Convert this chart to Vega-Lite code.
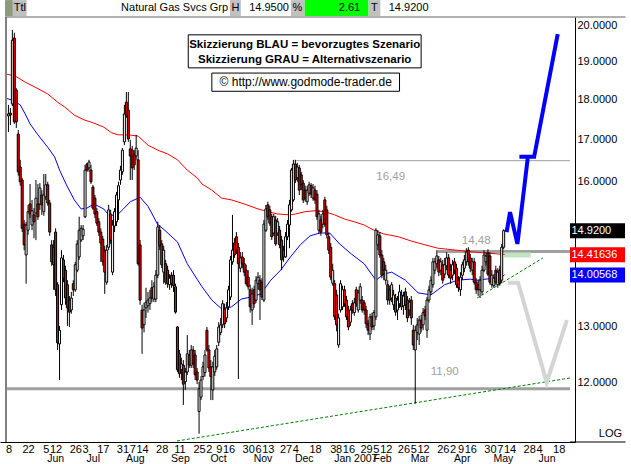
{
"$schema":"https://vega.github.io/schema/vega-lite/v6.json",
"width":575,"height":425,
"autosize":{"type":"none"},
"padding":{"left":0,"top":17,"right":56,"bottom":22},
"background":"white",
"config":{"view":{"stroke":null},"font":"Liberation Sans","axis":{"labelFont":"Liberation Sans","grid":false,"ticks":false}},
"resolve":{"axis":{"x":"independent"}},
"datasets":{
"one":[{}],
"c":[
{"i":0,"o":17.58,"h":17.86,"l":17.18,"c":17.63},{"i":1,"o":17.65,"h":17.78,"l":17.35,"c":17.6},{"i":2,"o":17.88,"h":19.88,"l":17.83,"c":19.59},{"i":3,"o":19.65,"h":19.8,"l":17.38,"c":17.43},{"i":4,"o":18.24,"h":18.29,"l":17.28,"c":17.43},{"i":5,"o":17.13,"h":17.23,"l":16.14,"c":16.23},{"i":6,"o":16.34,"h":16.51,"l":15.91,"c":16.0},{"i":7,"o":16.04,"h":16.09,"l":14.89,"c":14.97},{"i":8,"o":15.06,"h":15.15,"l":14.51,"c":14.62},{"i":9,"o":14.41,"h":15.11,"l":13.83,"c":15.04},
{"i":10,"o":14.93,"h":15.48,"l":14.83,"c":15.33},{"i":11,"o":15.5,"h":15.95,"l":15.19,"c":15.28},{"i":12,"o":15.04,"h":15.59,"l":14.93,"c":15.35},{"i":13,"o":15.26,"h":15.41,"l":14.76,"c":15.11},{"i":14,"o":15.3,"h":16.04,"l":14.72,"c":15.63},{"i":15,"o":15.5,"h":15.95,"l":15.15,"c":15.22},{"i":16,"o":15.5,"h":15.97,"l":15.37,"c":15.86},{"i":17,"o":15.7,"h":15.81,"l":15.26,"c":15.48},{"i":18,"o":15.33,"h":16.18,"l":15.24,"c":15.7},{"i":19,"o":15.66,"h":16.18,"l":15.59,"c":15.93},
{"i":20,"o":15.93,"h":16.0,"l":15.46,"c":15.52},{"i":21,"o":15.52,"h":15.59,"l":14.81,"c":14.89},{"i":22,"o":14.62,"h":14.72,"l":14.19,"c":14.27},{"i":23,"o":14.57,"h":14.72,"l":13.71,"c":14.21},{"i":24,"o":14.89,"h":14.97,"l":13.59,"c":13.71},{"i":25,"o":13.81,"h":13.86,"l":12.58,"c":12.71},{"i":26,"o":12.69,"h":13.02,"l":12.05,"c":12.94},{"i":27,"o":13.42,"h":14.51,"l":13.32,"c":14.35},{"i":28,"o":14.31,"h":14.41,"l":13.86,"c":13.94},{"i":29,"o":14.1,"h":14.19,"l":13.42,"c":13.55},
{"i":30,"o":13.81,"h":13.9,"l":13.02,"c":13.36},{"i":31,"o":13.51,"h":13.59,"l":13.0,"c":13.28},{"i":32,"o":13.32,"h":13.67,"l":13.25,"c":13.55},{"i":33,"o":13.83,"h":13.9,"l":13.59,"c":13.71},{"i":34,"o":13.71,"h":14.27,"l":13.67,"c":14.21},{"i":35,"o":14.1,"h":14.72,"l":14.06,"c":14.64},{"i":36,"o":14.37,"h":15.22,"l":14.31,"c":14.93},{"i":37,"o":14.72,"h":15.04,"l":14.68,"c":14.97},{"i":38,"o":14.81,"h":15.04,"l":14.72,"c":14.95},{"i":39,"o":15.22,"h":16.39,"l":15.19,"c":16.27},
{"i":40,"o":16.41,"h":16.44,"l":16.23,"c":16.27},{"i":41,"o":16.32,"h":16.51,"l":16.23,"c":16.46},{"i":42,"o":16.27,"h":16.39,"l":15.95,"c":16.0},{"i":43,"o":15.88,"h":15.93,"l":15.37,"c":15.41},{"i":44,"o":15.63,"h":15.7,"l":15.19,"c":15.28},{"i":45,"o":15.33,"h":15.41,"l":15.02,"c":15.08},{"i":46,"o":15.11,"h":15.19,"l":14.81,"c":14.89},{"i":47,"o":14.89,"h":14.97,"l":14.27,"c":14.66},{"i":48,"o":14.74,"h":14.81,"l":14.19,"c":14.27},{"i":49,"o":14.51,"h":14.6,"l":13.63,"c":14.06},
{"i":50,"o":13.86,"h":14.62,"l":13.81,"c":14.51},{"i":51,"o":14.57,"h":15.48,"l":14.51,"c":15.37},{"i":52,"o":15.28,"h":15.37,"l":14.64,"c":14.72},{"i":53,"o":14.06,"h":15.15,"l":14.0,"c":15.04},{"i":54,"o":15.02,"h":15.41,"l":14.89,"c":15.33},{"i":55,"o":15.11,"h":15.77,"l":15.02,"c":15.7},{"i":56,"o":15.59,"h":16.0,"l":15.15,"c":15.91},{"i":57,"o":16.04,"h":16.37,"l":15.93,"c":16.27},{"i":58,"o":16.23,"h":16.79,"l":16.16,"c":16.74},{"i":59,"o":16.94,"h":17.86,"l":16.86,"c":17.63},
{"i":60,"o":17.93,"h":18.19,"l":17.53,"c":17.58},{"i":61,"o":17.73,"h":18.19,"l":16.94,"c":17.01},{"i":62,"o":16.77,"h":16.99,"l":16.04,"c":16.6},{"i":63,"o":16.74,"h":16.84,"l":16.04,"c":16.32},{"i":64,"o":16.63,"h":16.74,"l":16.27,"c":16.39},{"i":65,"o":16.6,"h":17.11,"l":16.51,"c":16.79},{"i":66,"o":16.51,"h":16.74,"l":14.19,"c":14.23},{"i":67,"o":14.62,"h":14.72,"l":13.42,"c":13.51},{"i":68,"o":13.32,"h":13.42,"l":12.51,"c":12.98},{"i":69,"o":13.04,"h":13.46,"l":12.9,"c":13.32},
{"i":70,"o":13.36,"h":13.75,"l":13.17,"c":13.47},{"i":71,"o":13.4,"h":13.67,"l":13.27,"c":13.51},{"i":72,"o":13.44,"h":13.71,"l":13.32,"c":13.55},{"i":73,"o":13.75,"h":13.9,"l":13.47,"c":13.55},{"i":74,"o":13.53,"h":13.86,"l":13.47,"c":13.77},{"i":75,"o":13.53,"h":14.1,"l":13.47,"c":14.0},{"i":76,"o":14.0,"h":15.11,"l":13.94,"c":15.0},{"i":77,"o":14.93,"h":15.04,"l":14.51,"c":14.6},{"i":78,"o":14.64,"h":14.72,"l":14.14,"c":14.21},{"i":79,"o":14.06,"h":14.6,"l":13.83,"c":14.51},
{"i":80,"o":14.23,"h":14.31,"l":13.81,"c":13.86},{"i":81,"o":14.1,"h":14.19,"l":13.75,"c":13.83},{"i":82,"o":13.81,"h":14.02,"l":13.71,"c":13.94},{"i":83,"o":14.0,"h":14.06,"l":13.75,"c":13.83},{"i":84,"o":14.0,"h":14.1,"l":13.67,"c":13.79},{"i":85,"o":13.77,"h":13.83,"l":13.25,"c":13.28},{"i":86,"o":13.0,"h":13.02,"l":12.19,"c":12.23},{"i":87,"o":12.51,"h":12.58,"l":12.09,"c":12.16},{"i":88,"o":12.23,"h":12.44,"l":12.05,"c":12.33},{"i":89,"o":12.31,"h":12.4,"l":11.63,"c":11.98},
{"i":90,"o":12.02,"h":12.26,"l":11.88,"c":12.19},{"i":91,"o":12.19,"h":12.85,"l":12.14,"c":12.51},{"i":92,"o":12.49,"h":12.58,"l":12.26,"c":12.31},{"i":93,"o":12.31,"h":12.67,"l":12.26,"c":12.58},{"i":94,"o":12.58,"h":12.65,"l":12.26,"c":12.33},{"i":95,"o":12.49,"h":12.58,"l":12.05,"c":12.14},{"i":96,"o":12.19,"h":12.26,"l":11.98,"c":12.05},{"i":97,"o":11.52,"h":12.02,"l":11.16,"c":11.9},{"i":98,"o":11.76,"h":12.12,"l":11.71,"c":12.05},{"i":99,"o":12.11,"h":12.37,"l":12.05,"c":12.28},
{"i":100,"o":12.18,"h":12.58,"l":12.11,"c":12.49},{"i":101,"o":12.94,"h":13.0,"l":12.55,"c":12.58},{"i":102,"o":12.58,"h":12.67,"l":12.19,"c":12.26},{"i":103,"o":12.28,"h":12.4,"l":11.71,"c":12.11},{"i":104,"o":11.88,"h":12.37,"l":11.71,"c":12.28},{"i":105,"o":12.19,"h":12.58,"l":12.12,"c":12.47},{"i":106,"o":12.28,"h":12.67,"l":12.23,"c":12.6},{"i":107,"o":12.72,"h":13.09,"l":12.65,"c":13.0},{"i":108,"o":12.9,"h":13.17,"l":12.85,"c":13.04},{"i":109,"o":13.04,"h":13.51,"l":12.98,"c":13.44},
{"i":110,"o":13.34,"h":13.44,"l":12.98,"c":13.06},{"i":111,"o":13.17,"h":13.47,"l":13.09,"c":13.36},{"i":112,"o":13.38,"h":13.79,"l":13.32,"c":13.71},{"i":113,"o":13.57,"h":14.39,"l":13.51,"c":14.31},{"i":114,"o":14.27,"h":15.26,"l":14.21,"c":14.51},{"i":115,"o":14.66,"h":14.76,"l":14.35,"c":14.41},{"i":116,"o":14.79,"h":14.89,"l":14.43,"c":14.51},{"i":117,"o":14.57,"h":14.66,"l":12.07,"c":14.23},{"i":118,"o":14.14,"h":14.47,"l":14.06,"c":14.35},{"i":119,"o":14.37,"h":14.47,"l":14.14,"c":14.23},
{"i":120,"o":14.23,"h":14.35,"l":13.98,"c":14.06},{"i":121,"o":14.1,"h":14.21,"l":13.79,"c":13.83},{"i":122,"o":13.96,"h":14.1,"l":13.71,"c":13.77},{"i":123,"o":13.71,"h":13.81,"l":13.27,"c":13.38},{"i":124,"o":13.32,"h":13.75,"l":13.04,"c":13.63},{"i":125,"o":13.71,"h":13.79,"l":13.36,"c":13.44},{"i":126,"o":13.51,"h":13.98,"l":13.46,"c":13.9},{"i":127,"o":13.83,"h":14.06,"l":13.71,"c":13.96},{"i":128,"o":13.9,"h":14.0,"l":13.13,"c":13.71},{"i":129,"o":13.86,"h":13.94,"l":13.51,"c":13.57},
{"i":130,"o":13.51,"h":15.15,"l":13.47,"c":15.06},{"i":131,"o":14.93,"h":15.48,"l":14.89,"c":15.39},{"i":132,"o":15.48,"h":15.55,"l":15.15,"c":15.22},{"i":133,"o":15.37,"h":15.46,"l":15.02,"c":15.08},{"i":134,"o":15.22,"h":15.28,"l":14.72,"c":14.79},{"i":135,"o":14.87,"h":15.28,"l":14.81,"c":15.22},{"i":136,"o":15.15,"h":15.24,"l":14.6,"c":14.64},{"i":137,"o":14.87,"h":15.19,"l":14.81,"c":15.11},{"i":138,"o":14.93,"h":15.02,"l":14.55,"c":14.62},{"i":139,"o":14.72,"h":14.81,"l":14.1,"c":14.31},
{"i":140,"o":14.51,"h":14.6,"l":14.27,"c":14.37},{"i":141,"o":14.37,"h":14.89,"l":14.35,"c":14.79},{"i":142,"o":14.79,"h":15.15,"l":14.72,"c":15.06},{"i":143,"o":15.04,"h":15.59,"l":14.55,"c":15.48},{"i":144,"o":15.37,"h":16.32,"l":15.33,"c":16.27},{"i":145,"o":15.59,"h":16.51,"l":15.55,"c":16.41},{"i":146,"o":16.41,"h":16.51,"l":15.97,"c":16.04},{"i":147,"o":16.09,"h":16.44,"l":16.0,"c":16.34},{"i":148,"o":16.32,"h":16.39,"l":15.7,"c":15.81},{"i":149,"o":16.16,"h":16.23,"l":15.81,"c":15.93},
{"i":150,"o":15.97,"h":16.04,"l":15.52,"c":15.59},{"i":151,"o":15.81,"h":15.91,"l":15.55,"c":15.63},{"i":152,"o":15.55,"h":15.91,"l":15.48,"c":15.81},{"i":153,"o":15.74,"h":16.0,"l":15.68,"c":15.93},{"i":154,"o":15.91,"h":15.97,"l":15.63,"c":15.72},{"i":155,"o":15.63,"h":15.95,"l":15.57,"c":15.86},{"i":156,"o":15.81,"h":15.91,"l":15.5,"c":15.59},{"i":157,"o":15.72,"h":15.81,"l":15.15,"c":15.22},{"i":158,"o":14.93,"h":15.37,"l":14.85,"c":15.28},{"i":159,"o":15.15,"h":15.24,"l":14.81,"c":14.89},
{"i":160,"o":15.06,"h":15.37,"l":14.97,"c":15.28},{"i":161,"o":15.59,"h":15.66,"l":15.0,"c":15.06},{"i":162,"o":15.37,"h":15.46,"l":14.76,"c":14.83},{"i":163,"o":14.79,"h":14.87,"l":14.43,"c":14.51},{"i":164,"o":14.57,"h":14.66,"l":13.9,"c":13.96},{"i":165,"o":13.84,"h":14.23,"l":13.79,"c":14.1},{"i":166,"o":13.83,"h":13.9,"l":13.13,"c":13.19},{"i":167,"o":13.61,"h":13.71,"l":12.92,"c":13.04},{"i":168,"o":12.67,"h":13.25,"l":12.62,"c":13.17},{"i":169,"o":13.32,"h":13.9,"l":13.27,"c":13.83},
{"i":170,"o":13.38,"h":13.79,"l":13.32,"c":13.71},{"i":171,"o":13.71,"h":13.79,"l":13.38,"c":13.44},{"i":172,"o":13.51,"h":13.59,"l":13.13,"c":13.19},{"i":173,"o":13.32,"h":13.4,"l":12.94,"c":13.0},{"i":174,"o":13.09,"h":13.4,"l":13.02,"c":13.32},{"i":175,"o":13.44,"h":13.51,"l":13.25,"c":13.32},{"i":176,"o":13.27,"h":13.55,"l":13.21,"c":13.46},{"i":177,"o":13.71,"h":13.77,"l":13.38,"c":13.44},{"i":178,"o":13.32,"h":13.71,"l":13.27,"c":13.65},{"i":179,"o":13.51,"h":13.84,"l":13.44,"c":13.77},
{"i":180,"o":13.51,"h":13.59,"l":13.27,"c":13.32},{"i":181,"o":13.46,"h":13.51,"l":13.23,"c":13.32},{"i":182,"o":13.32,"h":13.4,"l":12.98,"c":13.06},{"i":183,"o":13.06,"h":13.13,"l":12.85,"c":12.94},{"i":184,"o":12.87,"h":13.25,"l":12.76,"c":13.19},{"i":185,"o":13.19,"h":13.27,"l":12.94,"c":13.0},{"i":186,"o":13.02,"h":13.32,"l":12.94,"c":13.27},{"i":187,"o":13.19,"h":14.97,"l":13.13,"c":14.93},{"i":188,"o":14.62,"h":14.93,"l":14.51,"c":14.83},{"i":189,"o":14.81,"h":14.89,"l":14.35,"c":14.41},
{"i":190,"o":14.41,"h":14.51,"l":13.94,"c":14.0},{"i":191,"o":14.27,"h":14.35,"l":13.9,"c":14.1},{"i":192,"o":13.9,"h":14.21,"l":13.81,"c":14.1},{"i":193,"o":13.81,"h":13.9,"l":13.42,"c":13.51},{"i":194,"o":13.71,"h":13.79,"l":13.42,"c":13.51},{"i":195,"o":13.55,"h":13.86,"l":13.47,"c":13.81},{"i":196,"o":13.42,"h":13.71,"l":13.32,"c":13.61},{"i":197,"o":13.55,"h":13.63,"l":13.21,"c":13.28},{"i":198,"o":13.32,"h":13.59,"l":13.13,"c":13.51},{"i":199,"o":13.44,"h":13.81,"l":13.36,"c":13.67},
{"i":200,"o":13.61,"h":13.71,"l":13.32,"c":13.38},{"i":201,"o":13.4,"h":13.67,"l":13.23,"c":13.59},{"i":202,"o":13.67,"h":13.75,"l":13.32,"c":13.42},{"i":203,"o":13.51,"h":13.59,"l":13.09,"c":13.17},{"i":204,"o":13.32,"h":13.55,"l":13.21,"c":13.47},{"i":205,"o":13.51,"h":13.59,"l":13.04,"c":13.17},{"i":206,"o":12.94,"h":13.04,"l":12.58,"c":12.67},{"i":207,"o":12.58,"h":13.02,"l":11.65,"c":12.94},{"i":208,"o":12.9,"h":13.17,"l":12.76,"c":13.04},{"i":209,"o":12.87,"h":13.21,"l":12.67,"c":13.13},
{"i":210,"o":13.13,"h":13.23,"l":12.9,"c":12.98},{"i":211,"o":13.04,"h":13.36,"l":12.94,"c":13.27},{"i":212,"o":13.32,"h":13.4,"l":13.13,"c":13.21},{"i":213,"o":12.94,"h":13.57,"l":12.8,"c":13.51},{"i":214,"o":13.51,"h":13.79,"l":13.46,"c":13.71},{"i":215,"o":13.67,"h":13.98,"l":13.61,"c":13.9},{"i":216,"o":13.81,"h":14.35,"l":13.75,"c":14.27},{"i":217,"o":14.1,"h":14.35,"l":14.02,"c":14.27},{"i":218,"o":14.23,"h":14.51,"l":14.14,"c":14.39},{"i":219,"o":14.31,"h":14.39,"l":13.98,"c":14.06},
{"i":220,"o":14.1,"h":14.35,"l":14.0,"c":14.27},{"i":221,"o":14.21,"h":14.31,"l":13.83,"c":13.9},{"i":222,"o":14.02,"h":14.35,"l":13.94,"c":14.21},{"i":223,"o":14.19,"h":14.47,"l":14.1,"c":14.35},{"i":224,"o":14.35,"h":14.43,"l":13.94,"c":14.0},{"i":225,"o":14.1,"h":14.23,"l":13.83,"c":13.94},{"i":226,"o":14.0,"h":14.31,"l":13.9,"c":14.21},{"i":227,"o":14.27,"h":14.35,"l":14.02,"c":14.1},{"i":228,"o":14.14,"h":14.23,"l":13.75,"c":13.81},{"i":229,"o":13.9,"h":13.98,"l":13.67,"c":13.75},
{"i":230,"o":13.71,"h":14.06,"l":13.59,"c":13.96},{"i":231,"o":14.0,"h":14.27,"l":13.9,"c":14.21},{"i":232,"o":14.14,"h":14.41,"l":14.06,"c":14.31},{"i":233,"o":14.27,"h":14.55,"l":14.19,"c":14.47},{"i":234,"o":14.51,"h":14.57,"l":14.19,"c":14.27},{"i":235,"o":14.35,"h":14.43,"l":14.06,"c":14.14},{"i":236,"o":14.1,"h":14.35,"l":14.0,"c":14.27},{"i":237,"o":14.27,"h":14.35,"l":13.81,"c":13.86},{"i":238,"o":13.86,"h":13.94,"l":13.63,"c":13.71},{"i":239,"o":13.81,"h":13.9,"l":13.59,"c":13.71},
{"i":240,"o":13.71,"h":13.98,"l":13.55,"c":13.9},{"i":241,"o":13.67,"h":14.19,"l":13.61,"c":14.1},{"i":242,"o":14.1,"h":14.51,"l":14.06,"c":14.41},{"i":243,"o":14.27,"h":14.47,"l":14.19,"c":14.39},{"i":244,"o":14.45,"h":14.53,"l":13.98,"c":14.02},{"i":245,"o":14.39,"h":14.47,"l":13.81,"c":13.86},{"i":246,"o":13.81,"h":14.1,"l":13.75,"c":14.0},{"i":247,"o":13.79,"h":14.02,"l":13.75,"c":13.94},{"i":248,"o":14.1,"h":14.19,"l":13.81,"c":13.86},{"i":249,"o":13.81,"h":14.14,"l":13.75,"c":14.06},
{"i":250,"o":14.1,"h":14.19,"l":13.79,"c":13.84},{"i":251,"o":13.9,"h":14.64,"l":13.84,"c":14.57},{"i":252,"o":14.57,"h":14.95,"l":14.53,"c":14.92}
],
"m200":[{"i":-0.75,"p":18.66},{"i":3.5,"p":18.61},{"i":8.5,"p":18.45},{"i":13.5,"p":18.32},{"i":20,"p":18.14},{"i":25,"p":17.93},{"i":28.5,"p":17.81},{"i":33.5,"p":17.6},{"i":38.5,"p":17.48},{"i":43.5,"p":17.4},{"i":48.5,"p":17.3},{"i":52.5,"p":17.16},{"i":56,"p":17.11},{"i":61,"p":17.11},{"i":66,"p":17.08},{"i":71,"p":16.86},{"i":76,"p":16.74},{"i":81,"p":16.65},{"i":86,"p":16.51},{"i":91,"p":16.27},{"i":96,"p":16.09},{"i":98.5,"p":15.95},{"i":103.5,"p":15.81},{"i":108.5,"p":15.63},{"i":113.5,"p":15.59},{"i":120,"p":15.5},{"i":127,"p":15.39},{"i":132,"p":15.33},{"i":137,"p":15.28},{"i":143.5,"p":15.26},{"i":146,"p":15.28},{"i":151,"p":15.33},{"i":156,"p":15.35},{"i":161,"p":15.33},{"i":166,"p":15.26},{"i":171,"p":15.17},{"i":176,"p":15.11},{"i":181,"p":15.04},{"i":186,"p":14.93},{"i":191,"p":14.85},{"i":198.5,"p":14.79},{"i":205,"p":14.7},{"i":212,"p":14.62},{"i":218.5,"p":14.55},{"i":237,"p":14.47},{"i":252.5,"p":14.42}],
"m50":[{"i":-0.75,"p":18.02},{"i":2,"p":17.98},{"i":6,"p":17.86},{"i":8.5,"p":17.63},{"i":11,"p":17.38},{"i":15,"p":17.11},{"i":20,"p":16.81},{"i":23.5,"p":16.58},{"i":26,"p":16.27},{"i":29.5,"p":15.93},{"i":33.5,"p":15.59},{"i":37,"p":15.39},{"i":40,"p":15.41},{"i":43.5,"p":15.5},{"i":48.5,"p":15.39},{"i":51,"p":15.26},{"i":55,"p":15.24},{"i":58.5,"p":15.39},{"i":62,"p":15.55},{"i":67,"p":15.65},{"i":71,"p":15.45},{"i":76,"p":15.05},{"i":79.5,"p":14.93},{"i":86,"p":14.68},{"i":91,"p":14.23},{"i":96,"p":13.92},{"i":98.5,"p":13.77},{"i":103.5,"p":13.51},{"i":108.5,"p":13.34},{"i":113.5,"p":13.38},{"i":118.5,"p":13.53},{"i":123.5,"p":13.57},{"i":128.5,"p":13.63},{"i":133.5,"p":13.9},{"i":138.5,"p":14.1},{"i":143.5,"p":14.37},{"i":148.5,"p":14.62},{"i":153.5,"p":14.81},{"i":158.5,"p":14.87},{"i":163.5,"p":14.87},{"i":168.5,"p":14.64},{"i":174.5,"p":14.43},{"i":181,"p":14.23},{"i":187,"p":13.9},{"i":191,"p":14.02},{"i":195,"p":14.06},{"i":202,"p":13.9},{"i":208.5,"p":13.65},{"i":215,"p":13.61},{"i":222,"p":13.81},{"i":228.5,"p":13.9},{"i":235,"p":13.92},{"i":238.5,"p":13.9},{"i":251,"p":13.96},{"i":252.5,"p":14.01}],
"tr":[{"t":"long","i":85.75,"p":11.045},{"t":"long","i":285.75,"p":12.086},{"t":"short","i":238.5,"p":13.55},{"t":"short","i":272,"p":14.35}],
"sb":[{"g":"a","k":0,"i":253.5,"p":14.89},{"g":"a","k":1,"i":255.25,"p":15.32},{"g":"a","k":2,"i":259,"p":14.64},{"g":"a","k":3,"i":264.25,"p":16.55},{"g":"b","k":0,"i":260,"p":16.58},{"g":"b","k":1,"i":267.5,"p":16.58},{"g":"b","k":2,"i":279.5,"p":19.76}],
"sg":[{"k":0,"i":254.25,"p":13.85},{"k":1,"i":259.35,"p":13.85},{"k":2,"i":273.9,"p":12.01},{"k":3,"i":284.15,"p":13.13}],
"vb":[{"k":"Last","p":14.92,"lab":"14.9200"},{"k":"MA200","p":14.41636,"lab":"14.41636"},{"k":"MA50","p":14.00568,"lab":"14.00568"}]
},
"layer":[
{"data":{"values":[{"p":11.9,"a":-1.75,"b":285.75}]},
 "mark":{"type":"rule","color":"#a0a0a0","strokeWidth":3},
 "encoding":{
  "x":{"field":"a","type":"quantitative","title":null,"scale":{"domain":[-1.75,285.75],"nice":false,"zero":false},
   "axis":{"orient":"bottom","values":[19,39,59,82,102,124,145,165,185,204,226,246,269],
    "labelExpr":"['Jun','Jul','Aug','Sep','Oct','Nov','Dec','Jan 2007','Feb','Mar','Apr','May','Jun'][indexof([19,39,59,82,102,124,145,165,185,204,226,246,269], datum.value)]",
    "domain":false,"ticks":false,"labelAlign":"left","labelBaseline":"top","labelPadding":11,"labelOverlap":false,"labelBound":false,"labelFlush":false,"labelFontSize":10.5,"labelColor":"black","labelOffset":1,"title":null}},
  "x2":{"field":"b"},
  "y":{"field":"p","type":"quantitative","title":null,"scale":{"type":"log","domain":[11.029,20.25],"nice":false,"zero":false},
   "axis":{"orient":"right","values":[12,13,16,17,18,19,20],"format":".4f","domainColor":"black","ticks":false,"labelPadding":2,"labelFontSize":11,"labelColor":"black","labelOverlap":false,"labelBound":false,"labelFlush":false,"title":null}}
 }},
{"data":{"values":[{"p":14.48,"a":218.25,"b":285.75}]},
 "mark":{"type":"rule","color":"#a0a0a0","strokeWidth":3},
 "encoding":{"x":{"field":"a","type":"quantitative","axis":null,"title":null},"x2":{"field":"b"},"y":{"field":"p","type":"quantitative","title":null}}},
{"data":{"values":[{"p":16.49,"a":145.75,"b":285.75}]},
 "mark":{"type":"rule","color":"#a0a0a0","strokeWidth":1},
 "encoding":{"x":{"field":"a","type":"quantitative","axis":null,"title":null},"x2":{"field":"b"},"y":{"field":"p","type":"quantitative","title":null}}},
{"data":{"values":[{"p":14.41,"a":252.25,"b":265.75}]},
 "mark":{"type":"rule","color":"#bfe2bf","strokeWidth":5},
 "encoding":{"x":{"field":"a","type":"quantitative","axis":null,"title":null},"x2":{"field":"b"},"y":{"field":"p","type":"quantitative","title":null}}},
{"data":{"name":"tr"},
 "mark":{"type":"line","color":"#008000","strokeWidth":1,"strokeDash":[3,2]},
 "encoding":{"x":{"field":"i","type":"quantitative","axis":null,"title":null},"y":{"field":"p","type":"quantitative","title":null},"detail":{"field":"t"}}},
{"data":{"name":"m200"},
 "mark":{"type":"line","color":"#ff0000","strokeWidth":1},
 "encoding":{"x":{"field":"i","type":"quantitative","axis":null,"title":null},"y":{"field":"p","type":"quantitative","title":null}}},
{"data":{"name":"m50"},
 "mark":{"type":"line","color":"#0000ff","strokeWidth":1},
 "encoding":{"x":{"field":"i","type":"quantitative","axis":null,"title":null},"y":{"field":"p","type":"quantitative","title":null}}},
{"data":{"name":"c"},
 "mark":{"type":"rule","color":"black","strokeWidth":1},
 "encoding":{
  "x":{"field":"i","type":"quantitative","title":null,
   "axis":{"orient":"bottom","values":[0,10,19,24,34,39,48,58,63,68,78,87,97,102,107,112,122,127,132,141,146,156,165,168,173,182,187,192,201,206,211,221,226,230,235,245,250,255,265,270,280],
    "labelExpr":"['8','22','5','12','26','3','17','31','7','14','28','11','25','2','9','16','30','6','13','27','4','18','3','8','16','29','5','12','26','5','12','26','2','9','16','30','7','14','28','4','18'][indexof([0,10,19,24,34,39,48,58,63,68,78,87,97,102,107,112,122,127,132,141,146,156,165,168,173,182,187,192,201,206,211,221,226,230,235,245,250,255,265,270,280], datum.value)]",
    "domainColor":"black","ticks":false,"labelPadding":1,"labelBaseline":"top","labelFontSize":11,"labelColor":"black","labelOverlap":false,"labelBound":false,"labelFlush":false,"title":null}},
  "y":{"field":"l","type":"quantitative","title":null},"y2":{"field":"h"}}},
{"data":{"name":"c"},
 "mark":{"type":"bar","width":2,"stroke":"black","strokeWidth":1},
 "encoding":{
  "x":{"field":"i","type":"quantitative","axis":null,"title":null},
  "y":{"field":"o","type":"quantitative","title":null},"y2":{"field":"c"},
  "fill":{"condition":{"test":"datum.c < datum.o","value":"#ff0000"},"value":"#ffffff"}}},
{"data":{"name":"sb"},
 "mark":{"type":"line","color":"#0000ff","strokeWidth":4},
 "encoding":{"x":{"field":"i","type":"quantitative","axis":null,"title":null},"y":{"field":"p","type":"quantitative","title":null},"detail":{"field":"g"},"order":{"field":"k"}}},
{"data":{"name":"sg"},
 "mark":{"type":"line","color":"#d4d4d4","strokeWidth":4},
 "encoding":{"x":{"field":"i","type":"quantitative","axis":null,"title":null},"y":{"field":"p","type":"quantitative","title":null},"order":{"field":"k"}}},
{"data":{"name":"one"},"mark":{"type":"rect","fill":"white","stroke":"black","strokeWidth":1},
 "encoding":{"x":{"datum":91.5,"axis":null},"x2":{"datum":210},"y":{"datum":19.74},"y2":{"datum":18.83}}},
{"data":{"name":"one"},"mark":{"type":"rect","fill":"white","stroke":"black","strokeWidth":1},
 "encoding":{"x":{"datum":103.5,"axis":null},"x2":{"datum":199},"y":{"datum":18.69},"y2":{"datum":18.21}}},
{"data":{"name":"one"},"mark":{"type":"text","text":"Skizzierung BLAU = bevorzugtes Szenario","fontWeight":"bold","fontSize":11.5,"align":"center","baseline":"middle","color":"black"},
 "encoding":{"x":{"datum":150.75,"axis":null},"y":{"datum":19.45}}},
{"data":{"name":"one"},"mark":{"type":"text","text":"Skizzierung GRAU = Alternativszenario","fontWeight":"bold","fontSize":11.5,"align":"center","baseline":"middle","color":"black"},
 "encoding":{"x":{"datum":150.75,"axis":null},"y":{"datum":19.04}}},
{"data":{"name":"one"},"mark":{"type":"text","text":"© http://www.godmode-trader.de","fontSize":12,"align":"center","baseline":"middle","color":"black"},
 "encoding":{"x":{"datum":151.25,"axis":null},"y":{"datum":18.45}}},
{"data":{"name":"one"},"mark":{"type":"text","text":"16,49","fontSize":11.5,"align":"center","baseline":"middle","color":"#a0a0a0"},
 "encoding":{"x":{"datum":194.5,"axis":null},"y":{"datum":16.11}}},
{"data":{"name":"one"},"mark":{"type":"text","text":"14,48","fontSize":11.5,"align":"center","baseline":"middle","color":"#a0a0a0"},
 "encoding":{"x":{"datum":238,"axis":null},"y":{"datum":14.7}}},
{"data":{"name":"one"},"mark":{"type":"text","text":"11,90","fontSize":11.5,"align":"center","baseline":"middle","color":"#a0a0a0"},
 "encoding":{"x":{"datum":222,"axis":null},"y":{"datum":12.19}}},
{"data":{"name":"vb"},
 "mark":{"type":"rule","strokeWidth":15},
 "encoding":{"x":{"datum":285.75,"axis":null},"x2":{"datum":313.75},"y":{"field":"p","type":"quantitative","title":null},
  "color":{"field":"k","type":"nominal","scale":{"domain":["Last","MA200","MA50"],"range":["#000000","#ff0000","#0000ff"]},"legend":null}}},
{"data":{"name":"vb"},
 "mark":{"type":"text","color":"white","fontSize":11,"align":"left","baseline":"middle"},
 "encoding":{"x":{"datum":286.5,"axis":null},"y":{"field":"p","type":"quantitative","title":null},"text":{"field":"lab"}}},
{"data":{"name":"one"},"mark":{"type":"text","text":"LOG","fontSize":11,"align":"right","baseline":"middle","color":"black"},
 "encoding":{"x":{"datum":312.25,"axis":null},"y":{"datum":11.16}}},
{"data":{"name":"one"},"mark":{"type":"rule","color":"black","strokeWidth":1},
 "encoding":{"x":{"datum":285.75,"axis":null},"x2":{"datum":314},"y":{"datum":11.029}}},
{"data":{"name":"one"},"mark":{"type":"rule","color":"#808080","strokeWidth":2},
 "encoding":{"x":{"datum":-1.25,"axis":null},"y":{"datum":11.029},"y2":{"datum":20.25}}},
{"data":{"name":"one"},"mark":{"type":"rule","color":"#606060","strokeWidth":1},
 "encoding":{"x":{"datum":-1.75,"axis":null},"x2":{"datum":314},"y":{"datum":20.25}}},
{"data":{"name":"one"},"mark":{"type":"rule","color":"#8c9a7d","strokeWidth":16},
 "encoding":{"x":{"datum":-1.75,"axis":null},"x2":{"datum":2.25},"y":{"datum":20.51}}},
{"data":{"name":"one"},"mark":{"type":"rule","color":"#c0c0c0","strokeWidth":16},
 "encoding":{"x":{"datum":2.25,"axis":null},"x2":{"datum":9.25},"y":{"datum":20.51}}},
{"data":{"name":"one"},"mark":{"type":"rule","color":"#c0c0c0","strokeWidth":16},
 "encoding":{"x":{"datum":112.75,"axis":null},"x2":{"datum":118.25},"y":{"datum":20.51}}},
{"data":{"name":"one"},"mark":{"type":"rule","color":"#c0c0c0","strokeWidth":16},
 "encoding":{"x":{"datum":143.75,"axis":null},"x2":{"datum":150.75},"y":{"datum":20.51}}},
{"data":{"name":"one"},"mark":{"type":"rule","color":"#00ff00","strokeWidth":16},
 "encoding":{"x":{"datum":150.75,"axis":null},"x2":{"datum":183.25},"y":{"datum":20.51}}},
{"data":{"name":"one"},"mark":{"type":"rule","color":"#c0c0c0","strokeWidth":16},
 "encoding":{"x":{"datum":183.25,"axis":null},"x2":{"datum":189.25},"y":{"datum":20.51}}},
{"data":{"name":"one"},"mark":{"type":"text","text":"Ttl","fontSize":11,"align":"left","baseline":"middle","color":"black"},
 "encoding":{"x":{"datum":2.75,"axis":null},"y":{"datum":20.51}}},
{"data":{"name":"one"},"mark":{"type":"text","text":"Natural Gas Svcs Grp","fontSize":11,"align":"right","baseline":"middle","color":"black"},
 "encoding":{"x":{"datum":111.75,"axis":null},"y":{"datum":20.51}}},
{"data":{"name":"one"},"mark":{"type":"text","text":"H","fontSize":11,"align":"left","baseline":"middle","color":"black"},
 "encoding":{"x":{"datum":113.5,"axis":null},"y":{"datum":20.51}}},
{"data":{"name":"one"},"mark":{"type":"text","text":"14.9500","fontSize":11,"align":"right","baseline":"middle","color":"black"},
 "encoding":{"x":{"datum":142.75,"axis":null},"y":{"datum":20.51}}},
{"data":{"name":"one"},"mark":{"type":"text","text":"%","fontSize":11,"align":"left","baseline":"middle","color":"black"},
 "encoding":{"x":{"datum":144.5,"axis":null},"y":{"datum":20.51}}},
{"data":{"name":"one"},"mark":{"type":"text","text":"2.61","fontSize":11,"align":"right","baseline":"middle","color":"black"},
 "encoding":{"x":{"datum":179,"axis":null},"y":{"datum":20.51}}},
{"data":{"name":"one"},"mark":{"type":"text","text":"T","fontSize":11,"align":"left","baseline":"middle","color":"black"},
 "encoding":{"x":{"datum":184.5,"axis":null},"y":{"datum":20.51}}},
{"data":{"name":"one"},"mark":{"type":"text","text":"14.9200","fontSize":11,"align":"right","baseline":"middle","color":"black"},
 "encoding":{"x":{"datum":213.75,"axis":null},"y":{"datum":20.51}}}
]
}
